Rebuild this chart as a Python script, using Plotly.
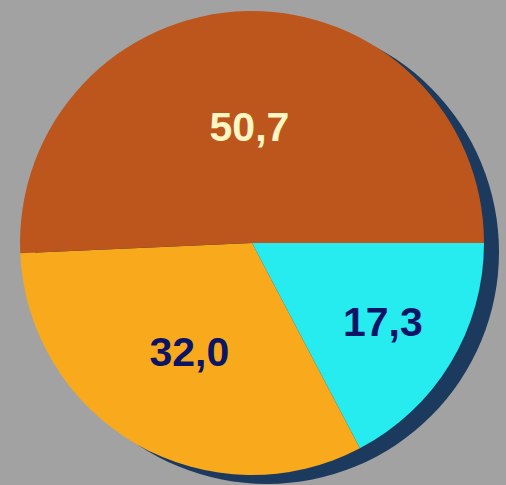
import plotly.graph_objects as go

labels = ["C", "B", "A"]
values = [17.3, 32.0, 50.7]
colors = ["#26ecf0", "#f9aa1c", "#bd561c"]
text_colors = ["#0c1466", "#0c1466", "#fff6c4"]

W, H = 506, 485
cx, cy_top, r = 252, 243, 232
cy = H - cy_top

fig = go.Figure()
fig.add_trace(go.Pie(
    labels=labels,
    values=values,
    sort=False,
    direction="clockwise",
    rotation=90,
    marker=dict(colors=colors, line=dict(width=0)),
    texttemplate="%{value:.1f}",
    textposition="inside",
    insidetextorientation="horizontal",
    textfont=dict(family="Liberation Sans, Arial", size=41, color=text_colors, weight="bold"),
    showlegend=False,
    hoverinfo="skip",
    domain=dict(x=[(cx - r) / W, (cx + r) / W], y=[(cy - r) / H, (cy + r) / H]),
))

dx, dy = 15, 9
fig.add_shape(type="circle", xref="paper", yref="paper", layer="below",
              x0=(cx - r + dx) / W, x1=(cx + r + dx) / W,
              y0=(cy - r - dy) / H, y1=(cy + r - dy) / H,
              fillcolor="#0d2f55", opacity=0.9, line=dict(width=0))

fig.update_layout(
    width=W, height=H,
    margin=dict(l=0, r=0, t=0, b=0),
    paper_bgcolor="#a2a2a2",
    plot_bgcolor="#a2a2a2",
    separators=",.",
)

fig.write_html("out.html", config={"displayModeBar": False},
               post_script="document.body.style.margin='0';document.body.style.overflow='hidden';")
